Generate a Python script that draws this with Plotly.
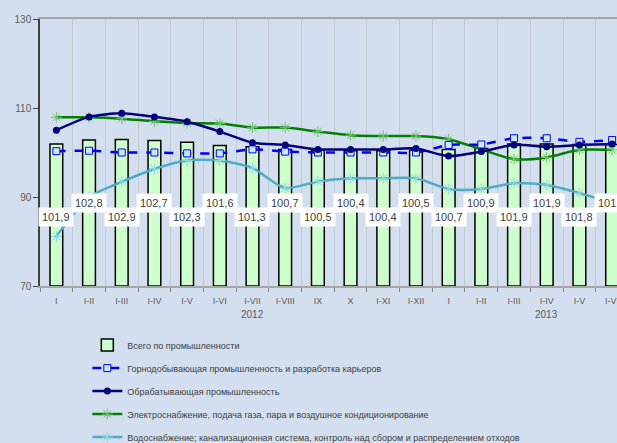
import plotly.graph_objects as go

categories = ["I", "I-II", "I-III", "I-IV", "I-V", "I-VI", "I-VII", "I-VIII", "IX", "X", "I-XI", "I-XII",
              "I", "I-II", "I-III", "I-IV", "I-V", "I-VI"]
years = ["2012", "2013"]
year_pos = [6, 15]

total = [101.9, 102.8, 102.9, 102.7, 102.3, 101.6, 101.3, 100.7, 100.5, 100.4, 100.4, 100.5,
         100.7, 100.9, 101.9, 101.9, 101.8, 101.8]
mining = [100.3, 100.4, 100.0, 100.0, 99.8, 99.8, 100.7, 100.2, 100.0, 100.0, 100.0, 100.0,
          101.7, 101.8, 103.2, 103.2, 102.4, 102.8]
manufacturing = [105.0, 108.0, 108.8, 108.0, 106.9, 104.7, 102.2, 101.7, 100.7, 100.7, 100.7, 100.9,
                 99.2, 100.2, 101.7, 101.3, 101.7, 101.9]
electricity = [107.9, 107.9, 107.6, 107.0, 106.6, 106.5, 105.6, 105.6, 104.7, 103.9, 103.7, 103.7,
               103.0, 100.7, 98.5, 98.9, 100.6, 100.6]
water = [81.1, 90.0, 93.4, 96.3, 98.2, 98.2, 96.5, 92.0, 93.5, 94.2, 94.2, 94.2,
         91.8, 91.8, 93.1, 92.7, 90.9, 88.6]

names = ["Всего по промышленности",
         "Горнодобывающая промышленность и разработка карьеров",
         "Обрабатывающая промышленность",
         "Электроснабжение, подача газа, пара и воздушное кондиционирование",
         "Водоснабжение; канализационная система, контроль над сбором и распределением отходов"]

x = list(range(len(categories)))
BG = "#D3DFEE"
FONT = "Liberation Sans, Arial, sans-serif"

fig = go.Figure()
fig.add_trace(go.Bar(x=x, y=[v - 70 for v in total], base=70, width=0.39, name=names[0],
                     marker=dict(color="#CCFFCC", line=dict(color="#000000", width=1.5)),
                     legendrank=1, legendgroup="a", hoverinfo="skip"))
fig.add_trace(go.Scatter(x=x, y=water, mode="lines+markers", name=names[4],
                         line=dict(color="#4BACC6", width=2.5, shape="spline", smoothing=0.7),
                         marker=dict(symbol="asterisk-open", size=9, color="#8FD6E6", line=dict(width=1, color="#8FD6E6")),
                         legendrank=5, legendgroup="e"))
fig.add_trace(go.Scatter(x=x, y=electricity, mode="lines+markers", name=names[3],
                         line=dict(color="#008000", width=2.5, shape="spline", smoothing=0.7),
                         marker=dict(symbol="asterisk-open", size=9, color="#6CC46C", line=dict(width=1, color="#6CC46C")),
                         legendrank=4, legendgroup="d"))
fig.add_trace(go.Scatter(x=x, y=mining, mode="lines+markers", name=names[1],
                         line=dict(color="#0000FF", width=2.5, dash="dash", shape="spline", smoothing=0.7),
                         marker=dict(symbol="square", size=7, color="#CCE8FF", line=dict(width=1, color="#0000FF")),
                         legendrank=2, legendgroup="b"))
fig.add_trace(go.Scatter(x=x, y=manufacturing, mode="lines+markers", name=names[2],
                         line=dict(color="#000080", width=2.5, shape="spline", smoothing=0.7),
                         marker=dict(symbol="circle", size=7, color="#000080"),
                         legendrank=3, legendgroup="c"))

annotations = []
for i, v in enumerate(total):
    ly = 85.6 if i % 2 == 0 else 88.6
    annotations.append(dict(x=i, y=ly, xref="x", yref="y", text=f"{v:.1f}".replace(".", ","),
                            showarrow=False, bgcolor="#FFFFFF", borderpad=3,
                            font=dict(family=FONT, size=11, color="#404040")))
for yr, p in zip(years, year_pos):
    annotations.append(dict(x=p, y=-0.107, xref="x", yref="paper", text=yr, showarrow=False,
                            yanchor="middle", xanchor="center",
                            font=dict(family=FONT, size=10, color="#595959")))

fig.update_layout(
    width=617, height=443,
    margin=dict(l=40, r=0, t=19, b=157, autoexpand=False),
    paper_bgcolor=BG, plot_bgcolor=BG,
    font=dict(family=FONT, size=10, color="#404040"),
    showlegend=True,
    legend=dict(x=0.082, y=-0.167, xanchor="left", yanchor="top", orientation="v",
                bgcolor="rgba(0,0,0,0)", font=dict(family=FONT, size=9, color="#404040"),
                tracegroupgap=4, traceorder="grouped", itemwidth=30),
    annotations=annotations,
    xaxis=dict(range=[-0.5, 17.15], tickmode="array", tickvals=x, ticktext=categories,
               showgrid=False, ticks="", showline=True, linecolor="#A6A6A6", linewidth=1.5,
               mirror=True, zeroline=False, tickfont=dict(size=9, color="#595959"),
               ticklabelstandoff=5, ticklabeloverflow="allow",
               minor=dict(tick0=-0.5, dtick=1, showgrid=True, gridcolor="#C3CAD4", gridwidth=1,
                          ticks="outside", ticklen=4, tickcolor="#808080")),
    yaxis=dict(range=[70, 130], dtick=20, tick0=70, showgrid=False, zeroline=False,
               showline=True, linecolor="#404040", linewidth=1.5, ticks="outside", ticklen=5,
               tickcolor="#404040", tickfont=dict(size=10, color="#595959")),
)

fig.write_html("out.html", config={"displayModeBar": False},
               post_script="document.body.style.margin='0';document.body.style.overflow='hidden';")
